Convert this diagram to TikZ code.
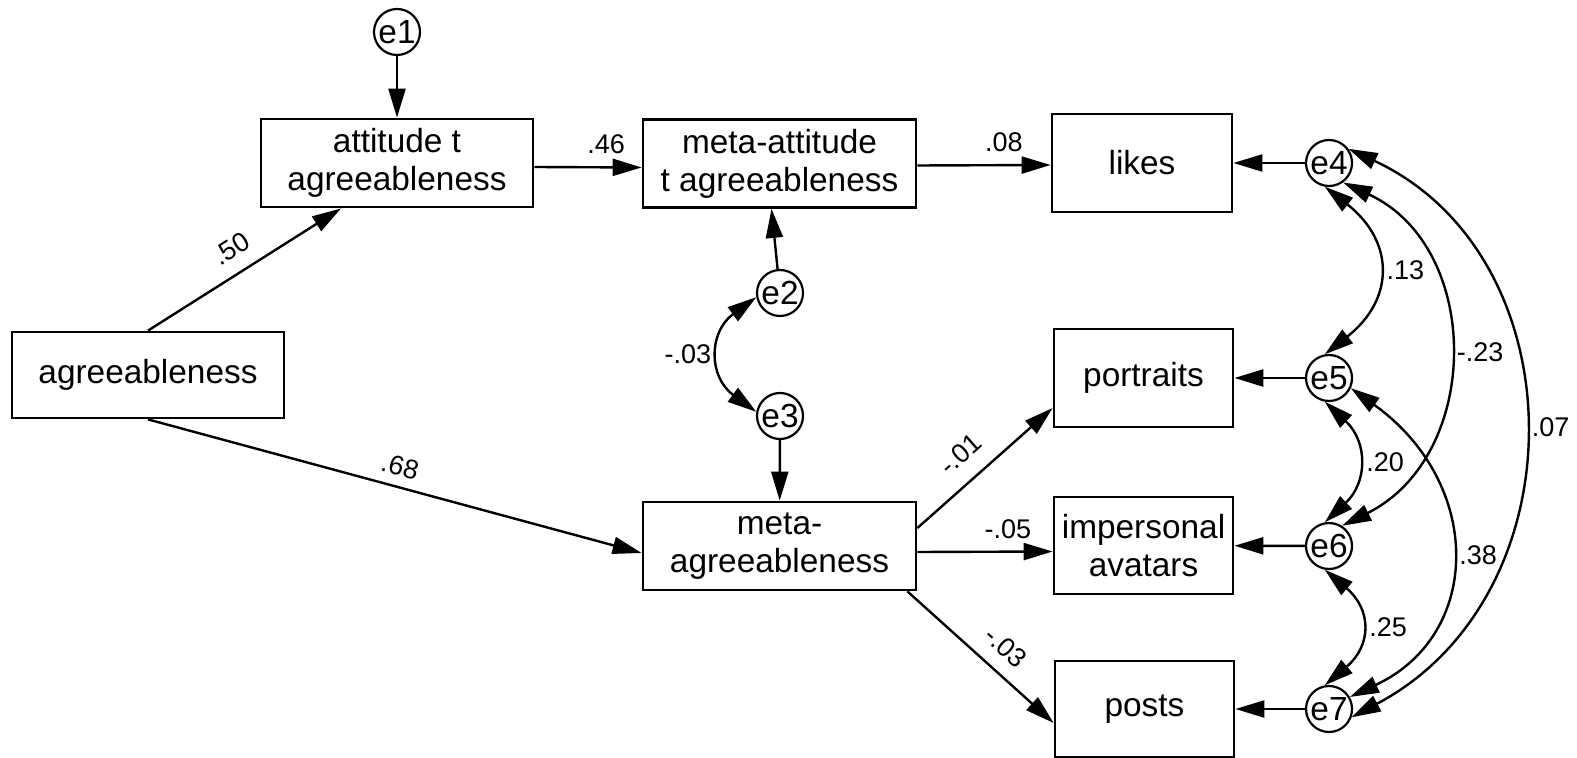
\documentclass[tikz,border=0pt]{standalone}
\usepackage{fontspec}
\setmainfont{Liberation Sans}
\usetikzlibrary{arrows.meta,calc}
\begin{document}
\begin{tikzpicture}[x=0.5pt,y=0.5pt,
  obs/.style={draw, line width=1.4pt, inner sep=0pt, align=center,
    font=\fontsize{16.7}{19}\selectfont},
  err/.style={draw, circle, line width=1.1pt, inner sep=0pt, minimum size=23pt,
    font=\fontsize{16.7}{19}\selectfont},
  dirarrow/.style={line width=1.2pt, -{Triangle[length=14.5pt,width=8.5pt]}},
  cov/.style={line width=1.2pt,
    {Triangle[length=14.5pt,width=8.5pt]}-{Triangle[length=14.5pt,width=8.5pt]}},
  lbl/.style={font=\fontsize{13.5}{16}\selectfont, inner sep=2pt},
]
\useasboundingbox (0,0) rectangle (1577,-758);

% observed variables
\node[obs, minimum width=136pt, minimum height=44pt] (att) at (397,-163) {attitude t\\agreeableness};
\node[obs, minimum width=136.5pt, minimum height=44pt] (meta) at (779.5,-163.5) {meta-attitude\\t agreeableness};
\node[obs, minimum width=90pt, minimum height=49pt] (likes) at (1142,-163) {likes};
\node[obs, minimum width=136pt, minimum height=43pt] (agree) at (148,-375) {agreeableness};
\node[obs, minimum width=89.5pt, minimum height=49pt] (port) at (1143.5,-378) {portraits};
\node[obs, minimum width=89.5pt, minimum height=48.5pt] (imp) at (1143.5,-545.5) {impersonal\\avatars};
\node[obs, minimum width=89.5pt, minimum height=48pt] (posts) at (1144.5,-709) {posts};
\node[obs, minimum width=136.5pt, minimum height=44pt] (magr) at (779.5,-546) {meta-\\agreeableness};

% error terms
\node[err] (e1) at (397,-32) {e1};
\node[err] (e2) at (780,-293) {e2};
\node[err] (e3) at (780,-416) {e3};
\node[err] (e4) at (1329,-163) {e4};
\node[err] (e5) at (1329,-378) {e5};
\node[err] (e6) at (1329,-546) {e6};
\node[err] (e7) at (1329,-709) {e7};

% regression paths
\draw[dirarrow] (e1) -- (att);
\draw[dirarrow] (agree.north) -- ($(att.south)+(-56,0)$)
  node[lbl, midway, above=5pt, sloped] {.50};
\draw[dirarrow] ($(att.east)+(0,-4)$) -- ($(meta.west)+(0,-4)$)
  node[lbl, pos=0.67, above=4pt] {.46};
\draw[dirarrow] ($(meta.east)+(0,-2)$) -- ($(likes.west)+(0,-2)$)
  node[lbl, pos=0.65, above=4pt] {.08};
\draw[dirarrow] (e2) -- ($(meta.south)+(-8,0)$);
\draw[dirarrow] (e3) -- (magr);
\draw[dirarrow] (agree.south) -- ($(magr.west)+(0,-7)$)
  node[lbl, midway, above=3pt, sloped] {.68};
\draw[dirarrow] ($(magr.east)+(0,18)$) -- ($(port.west)+(0,-30)$)
  node[lbl, pos=0.45, above=6pt, sloped] {-.01};
\draw[dirarrow] ($(magr.east)+(0,-6)$) -- ($(imp.west)+(0,-6)$)
  node[lbl, pos=0.67, above=4pt] {-.05};
\draw[dirarrow] ($(magr.south east)+(-10,0)$) -- ($(posts.west)+(0,-14)$)
  node[lbl, pos=0.56, above=5pt, sloped] {-.03};
\draw[dirarrow] (e4) -- (likes);
\draw[dirarrow] (e5) -- (port);
\draw[dirarrow] (e6) -- (imp);
\draw[dirarrow] (e7) -- (posts);

% covariances
\draw[cov] (e2.190) .. controls +(-48,-35) and +(-48,35) .. (e3.170)
  node[lbl, midway, left=2pt] {-.03};
\draw[cov] (e4.-100) .. controls +(70,-55) and +(70,55) .. (e5.100)
  node[lbl, midway, right=2pt] {.13};
\draw[cov] (e5.-100) .. controls +(43,-40) and +(43,40) .. (e6.100)
  node[lbl, midway, right=2pt] {.20};
\draw[cov] (e6.-100) .. controls +(47,-40) and +(47,40) .. (e7.100)
  node[lbl, midway, right=2pt] {.25};
\draw[cov] (e4.-54) .. controls +(140,-65) and +(140,70) .. (e6.57)
  node[lbl, midway, right=2pt] {-.23};
\draw[cov] (e5.-25) .. controls +(133,-95) and +(133,62) .. (e7.30)
  node[lbl, midway, right=2pt] {.38};
\draw[cov] (e4.36) .. controls +(230,-107) and +(230,122) .. (e7.-20)
  node[lbl, midway, right=2pt] {.07};
\end{tikzpicture}
\end{document}
